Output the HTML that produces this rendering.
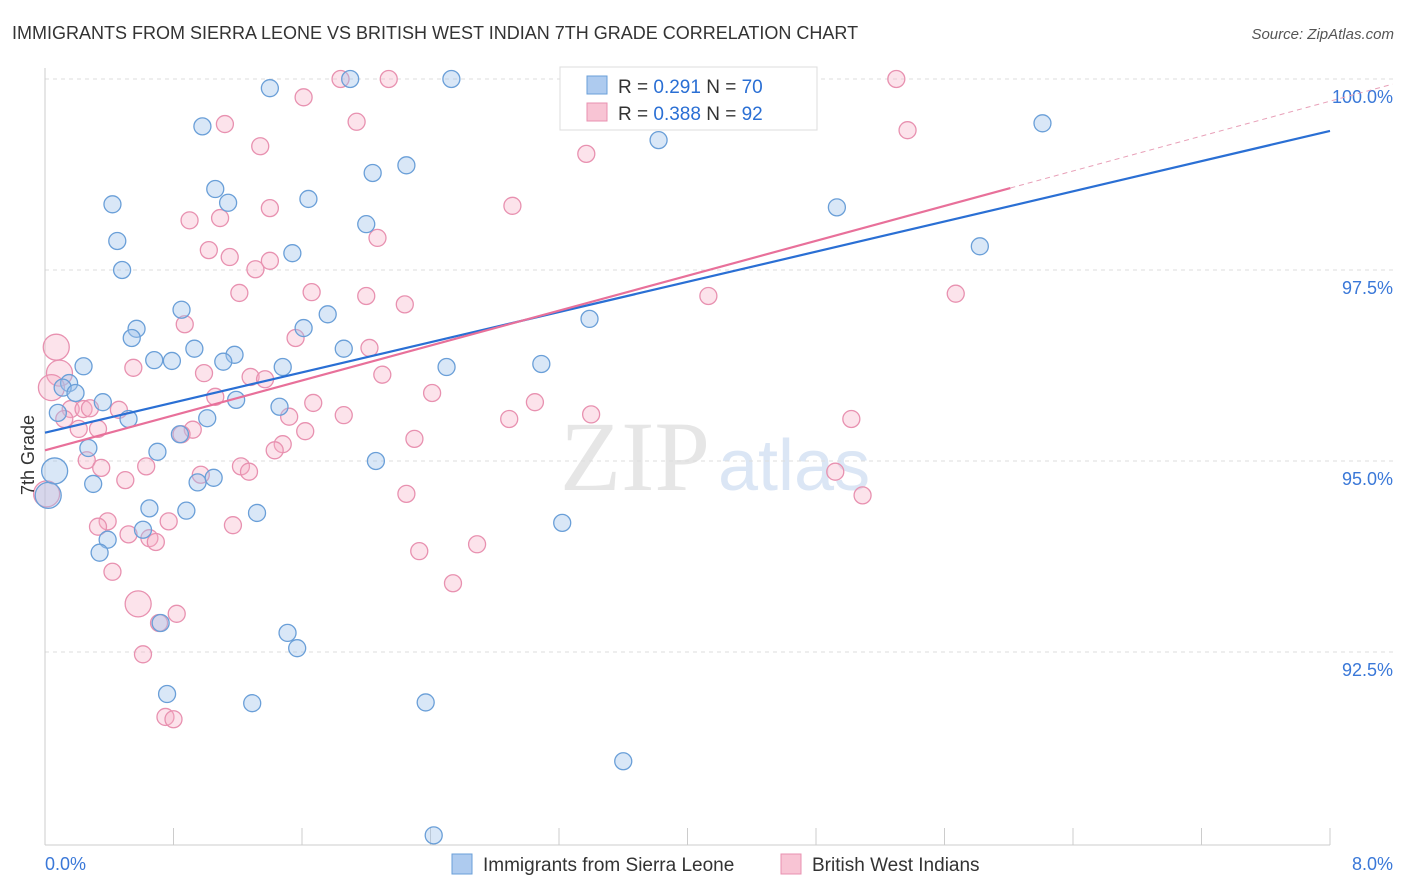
<!DOCTYPE html>
<html><head><meta charset="utf-8"><style>
body{margin:0;background:#fff;font-family:"Liberation Sans",sans-serif}
svg{display:block}
</style></head><body>
<svg id="c" width="1406" height="892">
<text x="12" y="39" font-size="18" fill="#333">IMMIGRANTS FROM SIERRA LEONE VS BRITISH WEST INDIAN 7TH GRADE CORRELATION CHART</text>
<text x="1394" y="39" font-size="15" fill="#555" font-style="italic" text-anchor="end">Source: ZipAtlas.com</text>
<text x="560" y="490" font-size="100" fill="#e6e6e6" font-family="Liberation Serif">ZIP</text>
<text x="718" y="490" font-size="72" fill="#dbe6f5">atlas</text>
<g id="grid"></g><g id="axes"></g><g id="pts"></g><g id="lines"></g>
<g>
<rect x="560" y="67" width="257" height="63" fill="#fff" stroke="#ddd"/>
<rect x="587" y="76" width="20" height="18" fill="#aecbef" stroke="#6a9fd8"/>
<text x="618" y="93" font-size="19" fill="#333">R = <tspan fill="#2a6fd4">0.291</tspan>   N = <tspan fill="#2a6fd4">70</tspan></text>
<rect x="587" y="103" width="20" height="18" fill="#f8c4d4" stroke="#e891b0"/>
<text x="618" y="120" font-size="19" fill="#333">R = <tspan fill="#2a6fd4">0.388</tspan>   N = <tspan fill="#2a6fd4">92</tspan></text>
</g>
<g>
<rect x="452" y="854" width="20" height="20" fill="#aecbef" stroke="#6a9fd8"/>
<text x="483" y="871" font-size="19" fill="#333">Immigrants from Sierra Leone</text>
<rect x="781" y="854" width="20" height="20" fill="#f8c4d4" stroke="#e891b0"/>
<text x="812" y="871" font-size="19" fill="#333">British West Indians</text>
</g>
<text x="34" y="455" font-size="18" fill="#333" transform="rotate(-90 34 455)" text-anchor="middle">7th Grade</text>
</svg>
<script>
const blueX=[1.40,1.90,2.53,3.34,4.33,0.98,2.25,2.04,1.06,1.14,1.64,0.42,2.00,3.82,4.93,6.21,5.82,0.45,1.54,0.48,0.85,1.76,0.57,1.61,0.54,3.39,0.24,0.68,0.79,0.93,1.18,1.11,1.86,1.48,2.50,3.09,0.15,0.11,0.19,0.36,1.19,1.46,0.08,0.52,1.01,0.84,0.70,0.27,2.06,0.06,0.30,0.95,1.05,0.65,0.88,1.32,0.61,0.39,0.34,3.22,0.72,1.51,1.57,0.76,1.29,2.37,3.60,2.42,0.02];
const blueY=[99.88,100,100,100,100,99.38,98.87,98.77,98.56,98.38,98.43,98.36,98.10,99.20,98.32,99.42,97.81,97.88,97.72,97.50,96.98,96.92,96.73,96.74,96.61,96.86,96.24,96.32,96.31,96.47,96.39,96.30,96.47,96.23,96.23,96.27,96.02,95.96,95.89,95.77,95.80,95.71,95.63,95.55,95.56,95.35,95.12,95.17,95.00,94.87,94.70,94.72,94.78,94.38,94.35,94.32,94.10,93.97,93.80,94.19,92.88,92.75,92.55,91.95,91.83,91.84,91.07,90.10,94.55];
const pinkX=[1.84,2.14,4.18,5.30,1.61,1.94,1.12,5.37,1.34,3.37,2.91,1.40,0.90,1.09,2.07,1.02,1.15,1.40,1.31,1.21,1.66,2.00,2.24,4.13,5.67,0.87,1.56,2.02,0.07,0.55,0.99,1.28,1.37,2.10,0.09,0.04,2.41,3.05,1.06,1.67,0.16,0.24,0.46,0.28,0.12,1.52,1.86,2.89,3.40,5.02,0.21,0.33,0.92,1.62,0.85,2.30,1.48,1.43,0.26,0.35,0.63,1.22,0.97,1.27,4.92,0.50,2.25,5.09,0.39,0.33,1.17,0.77,0.52,0.65,0.69,2.33,2.69,0.42,2.54,0.58,0.82,0.71,0.61,0.75,0.80,0.01];
const pinkY=[100,100,100,100,99.76,99.44,99.41,99.33,99.12,99.02,98.34,98.31,98.15,98.18,97.92,97.76,97.67,97.62,97.51,97.20,97.21,97.16,97.05,97.16,97.19,96.79,96.61,96.48,96.49,96.22,96.15,96.10,96.07,96.13,96.15,95.96,95.89,95.77,95.84,95.76,95.68,95.68,95.67,95.69,95.55,95.58,95.60,95.55,95.61,95.55,95.42,95.42,95.41,95.39,95.35,95.29,95.22,95.14,95.01,94.91,94.93,94.93,94.82,94.86,94.86,94.75,94.57,94.55,94.21,94.14,94.16,94.21,94.04,93.99,93.94,93.82,93.91,93.55,93.40,93.13,93.00,92.88,92.47,91.65,91.62,94.57];
const yTicks=[100,97.5,95,92.5];
const yTickLabels=["100.0%","97.5%","95.0%","92.5%"];
const xTickLabels=["0.0%","8.0%"];
const blueTrend=[95.37,99.32];
const pinkTrend=[95.14,99.71];
const X=v=>45+v/8*1285, Y=v=>79+(100-v)*76.4;
const NS="http://www.w3.org/2000/svg";
function mk(t,a,p){const e=document.createElementNS(NS,t);for(const k in a)e.setAttribute(k,a[k]);document.getElementById(p).appendChild(e);return e;}
yTicks.forEach((t,i)=>{
 const l=mk('line',{x1:45,x2:1393,y1:Y(t),y2:Y(t),stroke:'#ddd','stroke-dasharray':'4,4'},'grid');
 
 
 const tx=mk('text',{x:1393,y:Y(t)+24,'font-size':18,fill:'#3a78d8','text-anchor':'end'},'axes');
 tx.textContent=yTickLabels[i];
 
 
});
const ax=mk('line',{x1:45,x2:1330,y1:845,y2:845,stroke:'#ccc'},'axes');


const ay=mk('line',{x1:45,x2:45,y1:68,y2:845,stroke:'#ccc'},'axes');


for(let i=0;i<=10;i++){const t=mk('line',{x1:X(i*0.8),x2:X(i*0.8),y1:828,y2:845,stroke:'#ccc'},'axes');
 
 }
[[0,'start',45],[8,'end',1393]].forEach((d,i)=>{const t=mk('text',{x:d[2],y:870,'font-size':18,fill:'#3a78d8','text-anchor':d[1]},'axes');t.textContent=xTickLabels[i];
 
 });
function pts(xs,ys,fill,stroke,name,big){xs.forEach((x,i)=>{const c=mk('circle',{cx:X(x),cy:Y(ys[i]),r:big.includes(i)?13:8.5,fill:fill,stroke:stroke,'stroke-width':1.3},'pts');
 
 });}
pts(pinkX,pinkY,'rgba(245,175,198,0.35)','#e891b0','pink-point',[28,34,35,79,85]);
pts(blueX,blueY,'rgba(160,195,235,0.4)','#6a9fd8','blue-point',[68,49]);
const pb=mk('line',{x1:X(0),y1:Y(blueTrend[0]),x2:X(8),y2:Y(blueTrend[1]),stroke:'#2a6fd4','stroke-width':2.2},'lines');


const ps=(pinkTrend[1]-pinkTrend[0])/8;
const pp=mk('line',{x1:X(0),y1:Y(pinkTrend[0]),x2:X(6.01),y2:Y(pinkTrend[0]+ps*6.01),stroke:'#e8709a','stroke-width':2.2},'lines');


const pd=mk('line',{x1:X(6.01),y1:Y(pinkTrend[0]+ps*6.01),x2:X(8.39),y2:Y(pinkTrend[0]+ps*8.39),stroke:'#e8a0b8','stroke-width':1,'stroke-dasharray':'5,4'},'lines');


</script>
</body></html>
